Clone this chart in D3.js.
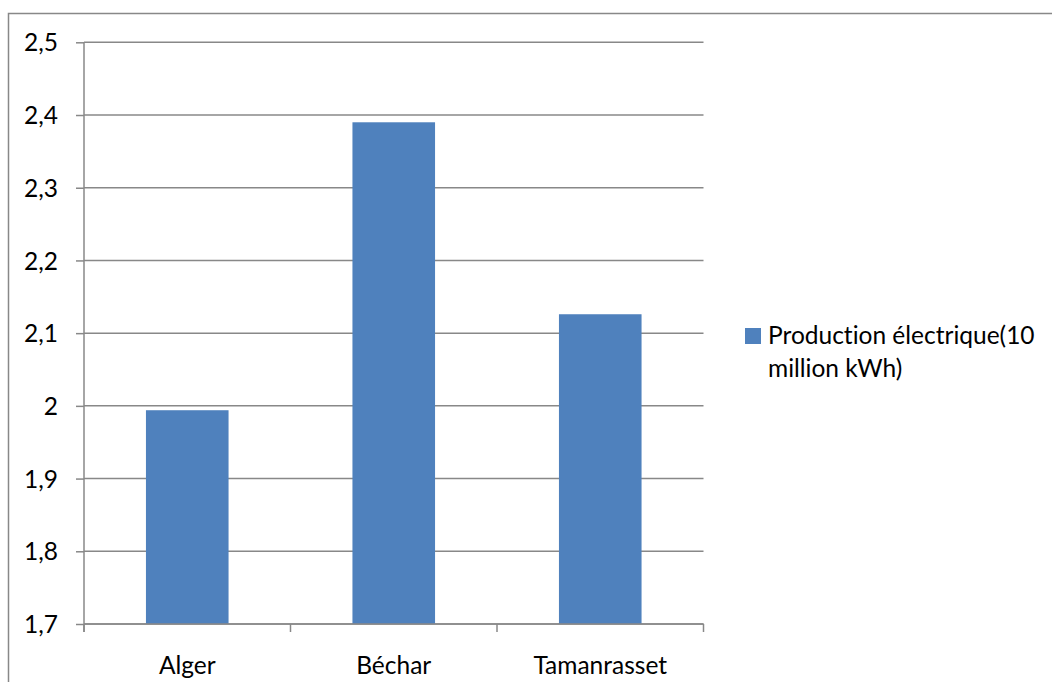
<!DOCTYPE html>
<html>
<head>
<meta charset="utf-8">
<script src="https://cdn.jsdelivr.net/npm/d3@7"></script>
<style>
  html, body { margin: 0; padding: 0; background: #fff; }
  svg { display: block; }
  text { font-family: Lato, "Liberation Sans", sans-serif; fill: #000; font-variant-ligatures: none; font-feature-settings: "liga" 0; }
</style>
</head>
<body>
<svg id="chart" width="1052" height="682"></svg>
<script>
// Electricity production by city
const categories = ["Alger", "Béchar", "Tamanrasset"];
const production = [1.994, 2.39, 2.126];
const yTicks = [1.7, 1.8, 1.9, 2.0, 2.1, 2.2, 2.3, 2.4, 2.5];
const legendLines = ["Production électrique(10", "million kWh)"];

const svg = d3.select("#chart");
const plot = { left: 84, right: 703.5, top: 42.3, bottom: 624 };
const fontSize = "24.5px";

// outer chart frame
svg.append("rect")
  .attr("x", 8.5).attr("y", 13.5)
  .attr("width", 1100).attr("height", 700)
  .attr("fill", "none").attr("stroke", "#888").attr("stroke-width", 1.5);

const x = d3.scaleBand()
  .domain(categories)
  .range([plot.left, plot.right])
  .paddingInner(0.6)
  .paddingOuter(0.3);

const y = d3.scaleLinear()
  .domain([1.7, 2.5])
  .range([plot.bottom, plot.top]);

const fmt = v => (Math.abs(v - Math.round(v)) < 1e-9 ? String(Math.round(v)) : d3.format(".1f")(v).replace(".", ","));

// horizontal gridlines
svg.append("g")
  .selectAll("line")
  .data(yTicks)
  .join("line")
  .attr("x1", plot.left).attr("x2", plot.right)
  .attr("y1", d => y(d)).attr("y2", d => y(d))
  .attr("stroke", "#888").attr("stroke-width", 1.5);

// y axis
const yAxis = d3.axisLeft(y)
  .tickValues(yTicks)
  .tickSize(8)
  .tickPadding(18)
  .tickFormat(fmt);
const gy = svg.append("g")
  .attr("transform", `translate(${plot.left},0)`)
  .call(yAxis);
gy.select(".domain").attr("stroke", "#888").attr("stroke-width", 1.5)
  .attr("d", `M0,${plot.top}V${plot.bottom + 8}`);
gy.selectAll(".tick line").attr("stroke", "#888").attr("stroke-width", 1.5);
gy.selectAll(".tick text")
  .style("font-size", fontSize)
  .attr("dy", "0.35em");

// bars
svg.append("g")
  .selectAll("rect")
  .data(categories.map((c, i) => ({ c, v: production[i] })))
  .join("rect")
  .attr("x", d => x(d.c))
  .attr("width", x.bandwidth())
  .attr("y", d => y(d.v))
  .attr("height", d => y(1.7) - y(d.v))
  .attr("fill", "#4f81bd");

// x axis baseline and category boundary ticks
const bounds = categories.map(c => x(c) - x.step() * x.paddingOuter());
bounds.push(plot.right);
const gx = svg.append("g");
gx.append("line")
  .attr("x1", plot.left).attr("x2", plot.right)
  .attr("y1", plot.bottom).attr("y2", plot.bottom)
  .attr("stroke", "#888").attr("stroke-width", 1.5);
gx.selectAll("line.tk")
  .data(bounds)
  .join("line")
  .attr("class", "tk")
  .attr("x1", d => d).attr("x2", d => d)
  .attr("y1", plot.bottom).attr("y2", plot.bottom + 8)
  .attr("stroke", "#888").attr("stroke-width", 1.5);
gx.selectAll("text")
  .data(categories)
  .join("text")
  .attr("x", d => x(d) + x.bandwidth() / 2)
  .attr("y", 674)
  .attr("text-anchor", "middle")
  .style("font-size", fontSize)
  .text(d => d);

// legend
const lg = svg.append("g");
lg.append("rect")
  .attr("x", 745).attr("y", 328)
  .attr("width", 16).attr("height", 16)
  .attr("fill", "#4f81bd");
lg.selectAll("text")
  .data(legendLines)
  .join("text")
  .attr("x", 768)
  .attr("y", (d, i) => 344 + i * 33)
  .style("font-size", fontSize)
  .text(d => d);
</script>
</body>
</html>
